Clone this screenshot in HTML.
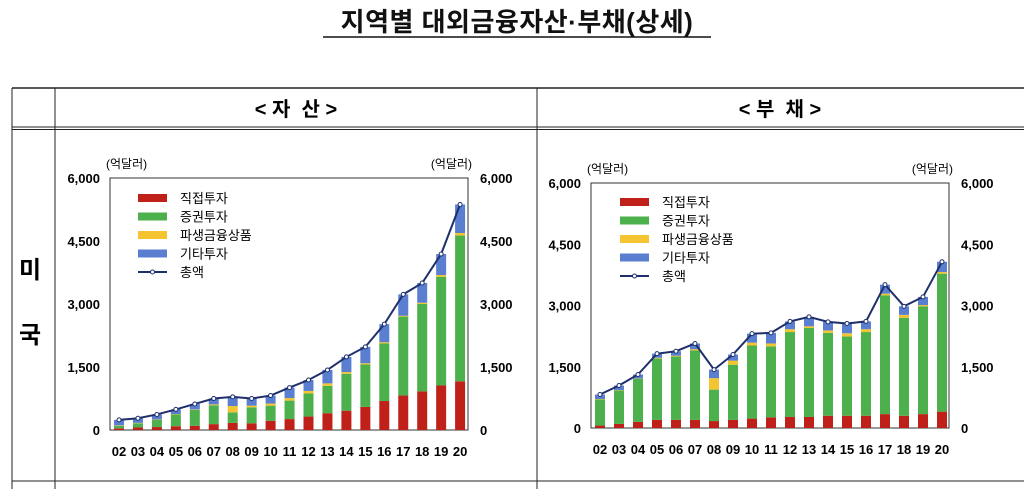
<!DOCTYPE html>
<html><head><meta charset="utf-8"><style>
body{margin:0;width:1024px;height:489px;background:#fff;overflow:hidden;font-family:"Liberation Sans","Noto Sans CJK KR",sans-serif;}
svg{position:absolute;left:0;top:0}
</style></head><body>
<svg width="1024" height="489" xmlns="http://www.w3.org/2000/svg" font-family="Liberation Sans, Noto Sans CJK KR, sans-serif">
<text x="517" y="31" text-anchor="middle" font-size="26" font-weight="bold" fill="#111" letter-spacing="0.5">지역별 대외금융자산·부채(상세)</text>
<line x1="323" y1="37" x2="711" y2="37" stroke="#111" stroke-width="1.5"/>
<g stroke="#222" fill="none">
<line x1="12" y1="88" x2="1024" y2="88" stroke-width="1.5"/>
<line x1="12" y1="127" x2="1024" y2="127"/>
<line x1="12" y1="129.5" x2="1024" y2="129.5"/>
<line x1="12" y1="481" x2="1024" y2="481"/>
<line x1="12" y1="88" x2="12" y2="489"/>
<line x1="55" y1="88" x2="55" y2="489"/>
<line x1="537" y1="88" x2="537" y2="489"/>
</g>
<text x="296" y="116" text-anchor="middle" font-size="20" font-weight="bold">&lt; 자 &#160;산 &gt;</text>
<text x="780" y="116" text-anchor="middle" font-size="20" font-weight="bold">&lt; 부 &#160;채 &gt;</text>
<text x="30" y="278" text-anchor="middle" font-size="24" font-weight="bold">미</text>
<text x="30" y="343" text-anchor="middle" font-size="24" font-weight="bold">국</text>
<g id="c1"></g><g id="c2"></g>
</svg>
<script>
var NS="http://www.w3.org/2000/svg";
function el(p,t,a,txt){var e=document.createElementNS(NS,t);for(var k in a)e.setAttribute(k,a[k]);if(txt!=null)e.textContent=txt;p.appendChild(e);return e;}
var C=["#c0201a","#4cb04c","#f5c531","#5a7fd0"];
function chart(g,o){
 var L=o.L,R=o.R,T=o.T,B=o.B,sc=(B-T)/6000;
 el(g,"rect",{x:L,y:T,width:R-L,height:B-T,fill:"none",stroke:"#333","stroke-width":1});
 el(g,"text",{x:L-4,y:T-10,"font-size":12},"(억달러)");
 el(g,"text",{x:R+4,y:T-10,"font-size":12,"text-anchor":"end"},"(억달러)");
 [0,1500,3000,4500,6000].forEach(function(v){var y=B-v*sc;var s=v.toLocaleString("en-US");
  el(g,"text",{x:L-10,y:y+5,"font-size":13,"text-anchor":"end","font-weight":"bold"},s);
  el(g,"text",{x:R+12,y:y+5,"font-size":13,"font-weight":"bold"},s);});
 var pts=[];
 for(var i=0;i<19;i++){
  var x=o.x0+i*o.st,vals=[0,o.d[i],o.s[i],o.s[i]+o.dv[i],o.t[i]];
  for(var j=0;j<4;j++){var y1=B-vals[j+1]*sc,y0=B-vals[j]*sc;el(g,"rect",{x:x-5,y:y1,width:10,height:Math.max(0,y0-y1),fill:C[j]});}
  pts.push(x+","+(B-o.t[i]*sc));
  el(g,"text",{x:x,y:B+26,"font-size":13,"text-anchor":"middle","font-weight":"bold"},(i+2<10?"0":"")+(i+2));
 }
 el(g,"polyline",{points:pts.join(" "),fill:"none",stroke:"#1f2f6b","stroke-width":2});
 pts.forEach(function(p){var q=p.split(",");el(g,"circle",{cx:q[0],cy:q[1],r:2,fill:"#fff",stroke:"#1f2f6b","stroke-width":1});});
 var nm=["직접투자","증권투자","파생금융상품","기타투자","총액"];
 for(var k=0;k<5;k++){var y=o.ly+k*18.5;
  if(k<4)el(g,"rect",{x:o.lx,y:y-4,width:29,height:8,fill:C[k]});
  else{el(g,"line",{x1:o.lx,y1:y,x2:o.lx+29,y2:y,stroke:"#1f2f6b","stroke-width":2});el(g,"circle",{cx:o.lx+14.5,cy:y,r:2,fill:"#fff",stroke:"#1f2f6b"});}
  el(g,"text",{x:o.lx+42,y:y+5,"font-size":13},nm[k]);}
}
chart(document.getElementById("c1"),{L:110,R:468,T:178,B:430,x0:119,st:18.95,lx:138,ly:198,
 t:[240,280,370,490,620,750,790,750,820,1010,1190,1430,1740,1980,2520,3230,3500,4190,5370],
 d:[40,60,70,90,100,140,170,160,220,260,320,400,460,550,690,820,920,1060,1160],
 s:[100,160,240,370,480,590,420,540,580,700,870,1050,1340,1560,2060,2700,3000,3650,4630],
 dv:[10,10,10,10,10,20,150,40,50,60,60,60,40,30,30,20,30,40,60]});
chart(document.getElementById("c2"),{L:591,R:949,T:183,B:428,x0:600,st:19,lx:620,ly:202,
 t:[820,1040,1310,1820,1880,2070,1430,1800,2310,2330,2610,2720,2600,2560,2610,3510,2980,3210,4070],
 d:[60,100,150,200,200,200,170,200,230,260,270,270,300,300,300,340,300,340,400],
 s:[700,920,1200,1700,1750,1900,940,1550,2020,2000,2350,2450,2330,2240,2350,3250,2700,2980,3780],
 dv:[10,10,10,20,20,30,280,100,70,70,70,40,60,80,70,40,70,30,40]});
</script>
</body></html>
